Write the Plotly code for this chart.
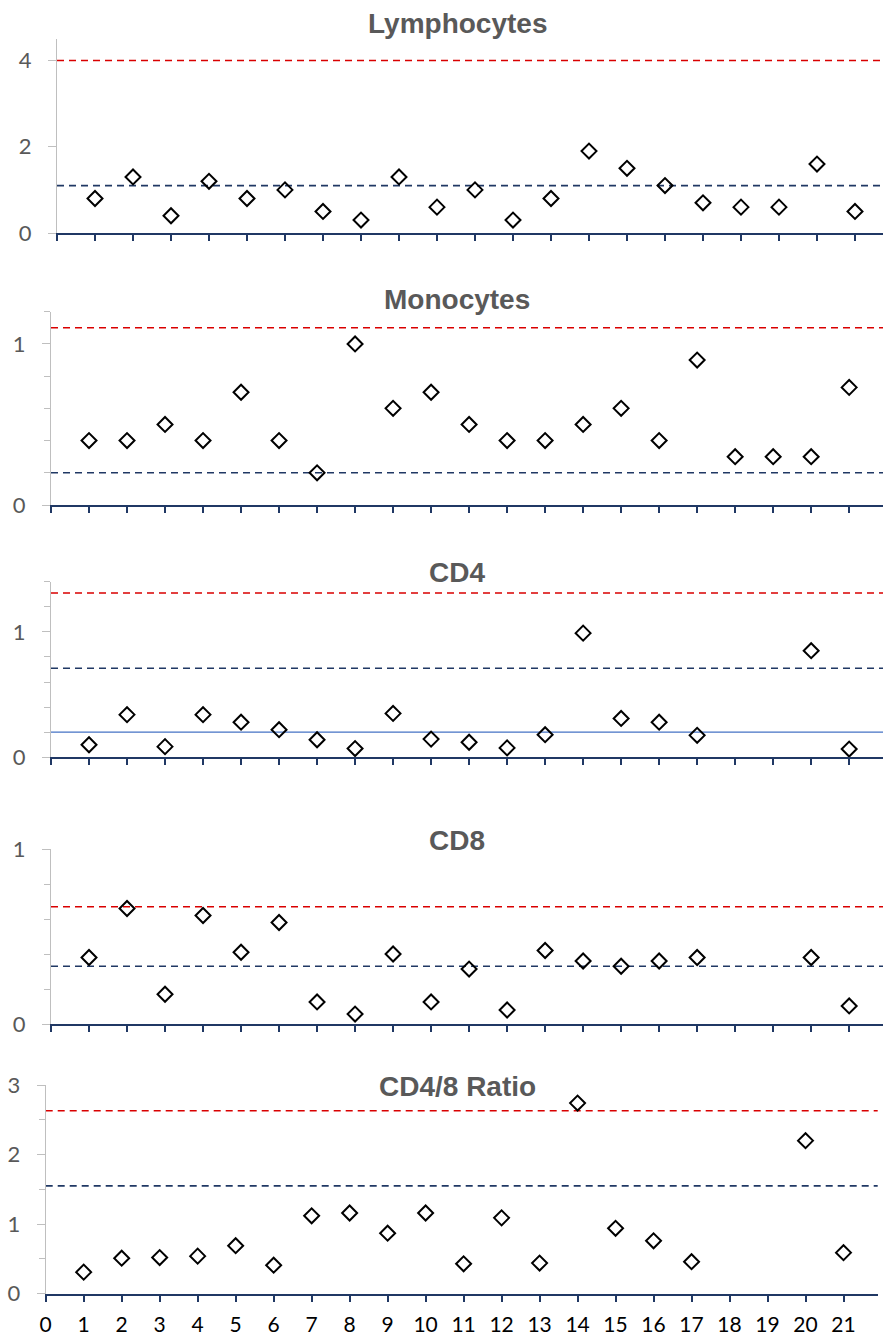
import plotly.graph_objects as go

# ---------------- data ----------------
patients = list(range(1, 22))

titles = ["Lymphocytes", "Monocytes", "CD4", "CD8", "CD4/8 Ratio"]

lymphocytes = [0.8, 1.3, 0.4, 1.2, 0.8, 1.0, 0.5, 0.3, 1.3, 0.6, 1.0,
               0.3, 0.8, 1.9, 1.5, 1.1, 0.7, 0.6, 0.6, 1.6, 0.5]
monocytes = [0.4, 0.4, 0.5, 0.4, 0.7, 0.4, 0.2, 1.0, 0.6, 0.7, 0.5,
             0.4, 0.4, 0.5, 0.6, 0.4, 0.9, 0.3, 0.3, 0.3, 0.73]
cd4 = [0.10, 0.34, 0.085, 0.34, 0.28, 0.22, 0.14, 0.07, 0.35, 0.145, 0.12,
       0.075, 0.18, 0.99, 0.31, 0.28, 0.175, None, None, 0.85, 0.066]
cd8 = [0.38, 0.66, 0.17, 0.62, 0.41, 0.58, 0.126, 0.057, 0.40, 0.126, 0.314,
       0.08, 0.42, 0.36, 0.33, 0.36, 0.38, None, None, 0.38, 0.103]
ratio = [0.31, 0.51, 0.52, 0.54, 0.69, 0.41, 1.12, 1.16, 0.87, 1.16, 0.43,
         1.09, 0.44, 2.74, 0.94, 0.76, 0.46, None, None, 2.20, 0.59]

series = [lymphocytes, monocytes, cd4, cd8, ratio]

upper_ref = [4.0, 1.1, 1.31, 0.67, 2.63]     # red dashed
lower_ref = [1.1, 0.2, 0.71, 0.33, 1.55]     # navy dashed
cd4_solid_ref = 0.2                           # light blue solid (CD4 only)

y_max = [4.5, 1.2, 1.4, 1.0, 3.0]
y_major = [2, 1, 1, 1, 1]
y_minor = [None, 0.2, 0.2, 0.2, 0.5]

x_tick_labels = [str(i) for i in range(0, 22)]

# ---------------- layout geometry (pixels) ----------------
W, H = 883, 1340
# (left, right, top, bottom, xmax)
panels = [
    (57.0, 883.0, 39.0, 233.0, 21.737),
    (51.0, 883.0, 311.7, 505.0, 21.89),
    (51.0, 883.0, 581.7, 757.3, 21.89),
    (51.0, 883.0, 849.0, 1024.0, 21.89),
    (45.7, 877.7, 1085.0, 1293.7, 21.9),
]
title_y_px = [24, 299, 572, 840, 1086]

RED = "#D90000"
NAVY = "#203864"
LIGHTBLUE = "#4472C4"
GRAY_AXIS = "#BFBFBF"
GRAY_TEXT = "#595959"

fig = go.Figure()
layout = dict(
    width=W, height=H,
    margin=dict(l=0, r=0, t=0, b=0, pad=0, autoexpand=False),
    paper_bgcolor="white", plot_bgcolor="white",
    showlegend=False,
)
shapes = []
annotations = []

for i, (vals, ttl) in enumerate(zip(series, titles)):
    n = i + 1
    xa = "x" if n == 1 else f"x{n}"
    ya = "y" if n == 1 else f"y{n}"
    xkey = "xaxis" if n == 1 else f"xaxis{n}"
    ykey = "yaxis" if n == 1 else f"yaxis{n}"
    left, right, top, bottom, xmax = panels[i]

    fig.add_trace(go.Scatter(
        x=patients, y=vals, mode="markers", xaxis=xa, yaxis=ya,
        marker=dict(symbol="diamond-open", size=11.5, color="black",
                    line=dict(color="black", width=2)),
        hoverinfo="x+y",
    ))

    last = (i == len(series) - 1)
    layout[xkey] = dict(
        domain=[left / W, right / W],
        range=[0, xmax],
        anchor=ya,
        automargin=False,
        showgrid=False, zeroline=False,
        showline=True, linecolor=NAVY, linewidth=1.6,
        ticks="outside", ticklen=6, tickwidth=1.5, tickcolor=NAVY,
        tickmode="array",
        tickvals=list(range(0, 22)),
        ticktext=x_tick_labels if last else [""] * 22,
        showticklabels=last,
        tickfont=dict(family="Lato, Calibri, sans-serif", size=21, color="#000000"),
        ticklabelstandoff=5,
        fixedrange=True,
    )
    yax = dict(
        domain=[1 - bottom / H, 1 - top / H],
        range=[0, y_max[i]],
        anchor=xa,
        automargin=False,
        showgrid=False, zeroline=False,
        showline=True, linecolor=GRAY_AXIS, linewidth=1.3,
        ticks="outside", ticklen=8, tickwidth=1.3, tickcolor=GRAY_AXIS,
        tick0=0, dtick=y_major[i],
        tickfont=dict(family="Lato, Calibri, sans-serif", size=22, color=GRAY_TEXT),
        ticklabelstandoff=12,
        fixedrange=True,
    )
    if y_minor[i] is not None:
        yax["minor"] = dict(dtick=y_minor[i], tick0=0, ticks="outside",
                            ticklen=6, tickwidth=1.3, tickcolor=GRAY_AXIS)
    layout[ykey] = yax

    # reference lines
    shapes.append(dict(type="line", xref=f"{xa} domain", yref=ya,
                       x0=0, x1=1, y0=upper_ref[i], y1=upper_ref[i],
                       line=dict(color=RED, width=1.6, dash="7px,5px"), layer="below"))
    shapes.append(dict(type="line", xref=f"{xa} domain", yref=ya,
                       x0=0, x1=1, y0=lower_ref[i], y1=lower_ref[i],
                       line=dict(color=NAVY, width=1.6, dash="7px,5px"), layer="below"))
    if ttl == "CD4":
        shapes.append(dict(type="line", xref=f"{xa} domain", yref=ya,
                           x0=0, x1=1, y0=cd4_solid_ref, y1=cd4_solid_ref,
                           line=dict(color=LIGHTBLUE, width=1.3), layer="below"))

    annotations.append(dict(
        text=f"<b>{ttl}</b>", xref="paper", yref="paper",
        x=457 / W, y=1 - title_y_px[i] / H, xanchor="center", yanchor="middle",
        showarrow=False,
        font=dict(family="Liberation Sans, Arial, sans-serif", size=28, color=GRAY_TEXT),
    ))

layout["shapes"] = shapes
layout["annotations"] = annotations
fig.update_layout(**layout)

fig.write_html(
    "out.html",
    config={"displayModeBar": False, "responsive": False},
    post_script=(
        "document.documentElement.style.margin='0';"
        "document.documentElement.style.padding='0';"
        "document.documentElement.style.overflow='hidden';"
        "document.body.style.margin='0';"
        "document.body.style.padding='0';"
        "document.body.style.overflow='hidden';"
    ),
)
